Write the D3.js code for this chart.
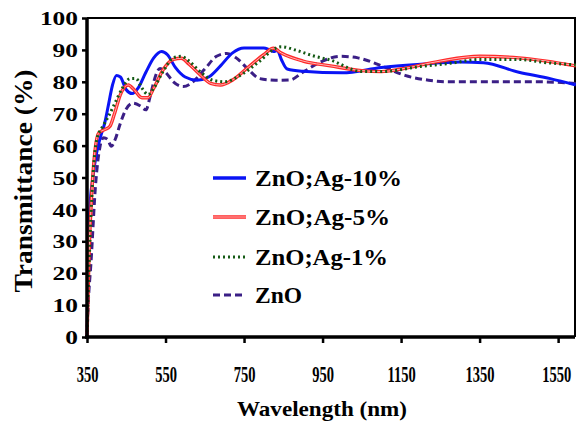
<!DOCTYPE html>
<html>
<head>
<meta charset="utf-8">
<script src="https://cdn.jsdelivr.net/npm/d3@7"></script>
<style>
  body { margin: 0; background: #fff; }
</style>
</head>
<body>
<div id="chart"></div>
<script>
// wavelength (nm) / transmittance (%)
var ag10 = [[350,0],[352,20],[357,40],[365,50],[375,58],[385,63],[395,67],[405,73],[415,79],[425,82],[435,81.5],[450,77.5],[465,76.3],[480,78],[500,83],[520,87.5],[540,89.5],[555,88.5],[575,84.5],[600,81.5],[630,80.5],[660,81.5],[690,85],[720,89],[750,90.6],[800,90.6],[815,90],[825,89.5],[835,89.8],[845,87],[860,84],[900,83.3],[1000,82.8],[1100,84.5],[1200,85.5],[1300,86.2],[1360,86],[1450,83],[1530,81],[1595,79]];
var ag5 = [[350,0],[355,25],[362,45],[370,58],[380,64],[395,65],[408,66],[420,70],[435,76],[455,79],[470,77.5],[490,75],[505,75],[520,78],[545,84],[570,87],[590,87.4],[610,85.5],[640,82],[665,79.5],[690,79],[720,80.5],[760,84.5],[800,88.5],[825,90.5],[845,89],[900,86.5],[970,85],[1050,83.5],[1100,83.2],[1150,84],[1250,86.5],[1350,88],[1450,87.5],[1520,86.5],[1595,85]];
var ag1 = [[350,0],[356,25],[364,48],[375,62],[390,66],[404,69],[420,73],[440,78],[460,81],[475,81],[490,78],[506,76],[520,78],[545,83.5],[570,87.5],[590,88],[610,86.5],[640,83],[670,80.5],[700,80],[740,82],[790,86.5],[830,90.5],[845,91],[880,90],[930,88],[970,86.8],[1050,83.2],[1100,83.2],[1200,84.8],[1275,85.8],[1350,87],[1450,87],[1520,86],[1595,85.3]];
var zno = [[350,0],[353,10],[360,23],[372,48],[383,59.6],[392,62.5],[402,62],[412,59.8],[422,62],[435,67],[450,71.5],[467,73.3],[485,72.5],[500,71.2],[512,76],[525,82],[536,84.2],[550,83],[570,80],[595,78.5],[620,80],[650,84],[680,88],[706,88.9],[730,87.5],[760,84],[790,81],[830,80.5],[867,80.6],[900,83],[950,86.5],[995,88],[1040,87.5],[1100,85],[1160,82],[1220,80.5],[1275,80],[1400,80],[1500,80],[1595,79.5]];

var xTicks = [350, 550, 750, 950, 1150, 1350, 1550];
var yTicks = [0, 10, 20, 30, 40, 50, 60, 70, 80, 90, 100];
var names = ["ZnO;Ag-10%", "ZnO;Ag-5%", "ZnO;Ag-1%", "ZnO"];
var nameWidths = [147, 135, 133, 47];

var FONT = "'Liberation Serif', 'DejaVu Serif', serif";

var width = 576, height = 421;
var margin = {top: 18, right: 1, bottom: 84, left: 87};

var svg = d3.select("#chart").append("svg")
  .attr("width", width)
  .attr("height", height)
  .attr("font-family", FONT)
  .attr("font-weight", "bold");

var x = d3.scaleLinear().domain([350, 1593]).range([margin.left, width - margin.right]);
var y = d3.scaleLinear().domain([0, 100]).range([height - margin.bottom, margin.top]);

// frame (top and right)
svg.append("path")
  .attr("d", "M" + x(350) + "," + y(100) + "H" + x(1593) + "V" + y(0))
  .attr("fill", "none").attr("stroke", "#000").attr("stroke-width", 2);

var line = d3.line()
  .x(function(d) { return x(d[0]); })
  .y(function(d) { return y(d[1]); })
  .curve(d3.curveMonotoneX);

var plot = svg.append("g");

// ZnO
plot.append("path").attr("d", line(zno))
  .attr("fill", "none").attr("stroke", "#3b1f86").attr("stroke-width", 3)
  .attr("stroke-dasharray", "7,4");
// Ag-10%
plot.append("path").attr("d", line(ag10))
  .attr("fill", "none").attr("stroke", "#0a14f5").attr("stroke-width", 3);
// Ag-5% (double red line)
plot.append("path").attr("d", line(ag5))
  .attr("fill", "none").attr("stroke", "#ff2a2a").attr("stroke-width", 3.4);
plot.append("path").attr("d", line(ag5))
  .attr("fill", "none").attr("stroke", "#ffb5b5").attr("stroke-width", 1);
// Ag-1%
plot.append("path").attr("d", line(ag1))
  .attr("fill", "none").attr("stroke", "#145a14").attr("stroke-width", 3)
  .attr("stroke-dasharray", "2,3");

// axes
var xAxis = svg.append("g")
  .attr("transform", "translate(0," + y(0) + ")")
  .call(d3.axisBottom(x).tickValues(xTicks).tickSize(6).tickPadding(0).tickFormat(d3.format("d")));
xAxis.attr("font-family", FONT).attr("font-size", 14.5);
xAxis.select(".domain").attr("stroke-width", 3.5).attr("d", "M" + (x(350) - 2) + ",0H" + x(1593));
xAxis.selectAll(".tick line").attr("stroke-width", 2.5);
// labels are tall and narrow in the picture
xAxis.selectAll(".tick text")
  .attr("y", 29).attr("dy", null)
  .attr("x", function(d) { return d == 1550 ? -2 : 0; })
  .attr("transform", "scale(1,1.55)");

var yAxis = svg.append("g")
  .attr("transform", "translate(" + x(350) + ",0)")
  .call(d3.axisLeft(y).tickValues(yTicks).tickSize(5).tickPadding(4));
yAxis.attr("font-family", FONT).attr("font-size", 19);
yAxis.select(".domain").attr("stroke-width", 3.5).attr("d", "M0," + y(100) + "V" + (y(0) + 2));
yAxis.selectAll(".tick line").attr("stroke-width", 2.5);
yAxis.selectAll(".tick text")
  .attr("dy", "0.35em")
  .attr("textLength", function(d) { return String(d).length * 12.7; })
  .attr("lengthAdjust", "spacingAndGlyphs");

// axis titles
svg.append("text")
  .attr("x", 322).attr("y", 416)
  .attr("text-anchor", "middle")
  .attr("font-size", 22)
  .attr("textLength", 170).attr("lengthAdjust", "spacingAndGlyphs")
  .text("Wavelength (nm)");

svg.append("text")
  .attr("transform", "translate(32,181) rotate(-90)")
  .attr("text-anchor", "middle")
  .attr("font-size", 26)
  .attr("textLength", 223).attr("lengthAdjust", "spacingAndGlyphs")
  .text("Transmittance (%)");

// legend
var lgY = [178, 217, 257, 295];
var lg = svg.append("g");
lg.append("line").attr("x1", 213).attr("x2", 246).attr("y1", lgY[0]).attr("y2", lgY[0])
  .attr("stroke", "#0a14f5").attr("stroke-width", 3.5);
lg.append("line").attr("x1", 213).attr("x2", 246).attr("y1", lgY[1]).attr("y2", lgY[1])
  .attr("stroke", "#ff2a2a").attr("stroke-width", 3.4);
lg.append("line").attr("x1", 213).attr("x2", 246).attr("y1", lgY[1]).attr("y2", lgY[1])
  .attr("stroke", "#ffb5b5").attr("stroke-width", 1);
lg.append("line").attr("x1", 213).attr("x2", 246).attr("y1", lgY[2]).attr("y2", lgY[2])
  .attr("stroke", "#145a14").attr("stroke-width", 3).attr("stroke-dasharray", "2,3");
lg.append("line").attr("x1", 213).attr("x2", 246).attr("y1", lgY[3]).attr("y2", lgY[3])
  .attr("stroke", "#3b1f86").attr("stroke-width", 3).attr("stroke-dasharray", "7,4");

lg.selectAll("text.lab")
  .data(names).enter()
  .append("text")
  .attr("class", "lab")
  .attr("x", 255)
  .attr("y", function(d, i) { return lgY[i]; })
  .attr("dy", "0.35em")
  .attr("font-size", 24)
  .attr("textLength", function(d, i) { return nameWidths[i]; })
  .attr("lengthAdjust", "spacingAndGlyphs")
  .text(function(d) { return d; });
</script>
</body>
</html>
